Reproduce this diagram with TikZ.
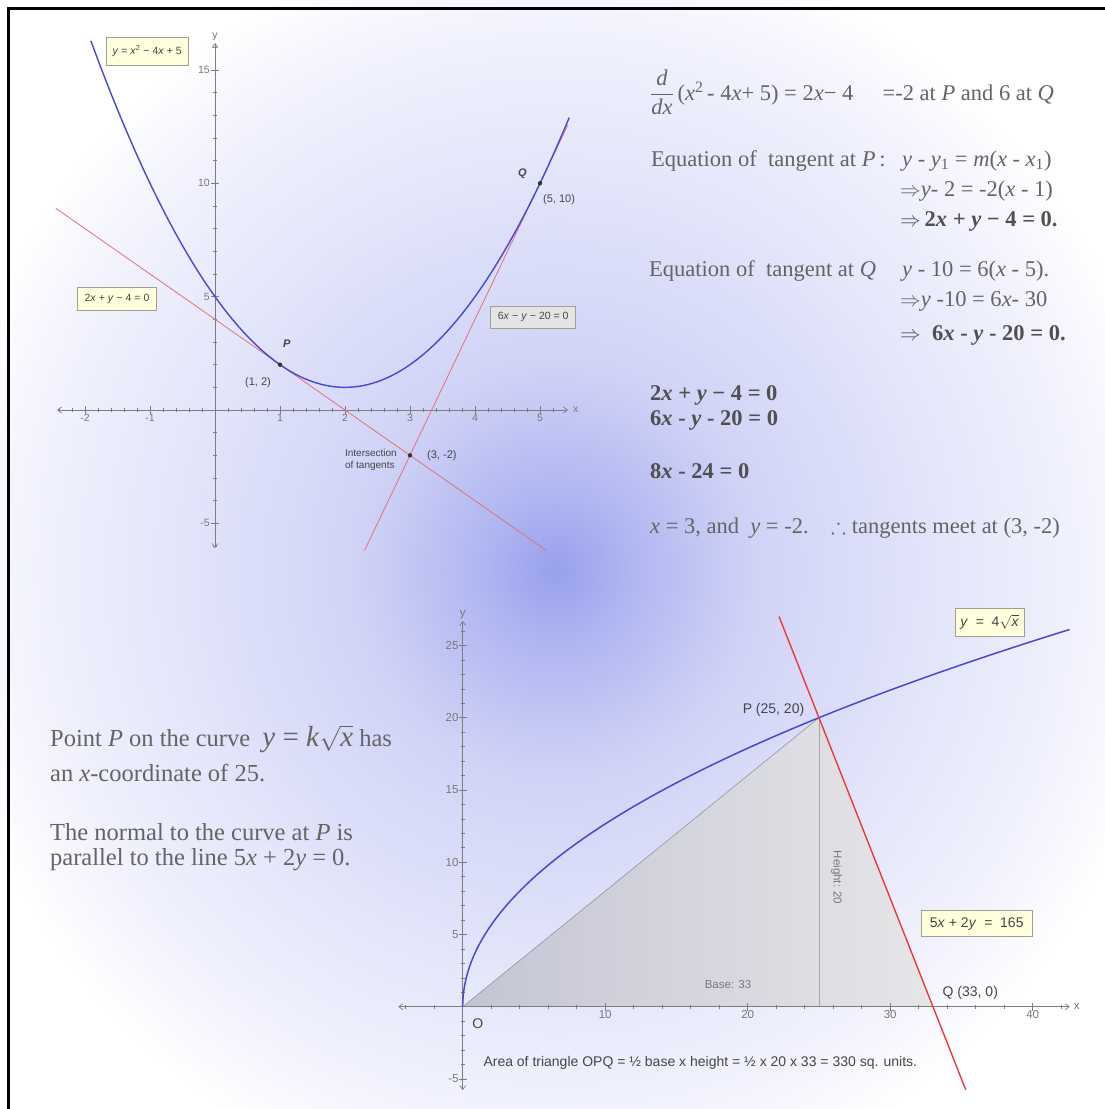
\documentclass[tikz,border=0pt]{standalone}
\usepackage{amsmath, amssymb}
\usepackage{fontspec}
\setmainfont{Liberation Serif}
\newfontfamily\graphfont{Liberation Sans}
\usetikzlibrary{positioning, arrows.meta, calc}

\definecolor{inkgray}{RGB}{100,100,100}
\definecolor{boldgray}{RGB}{80,80,80}
\definecolor{axisgray}{RGB}{125,125,125}
\definecolor{labgray}{RGB}{120,120,120}
\definecolor{ptgray}{RGB}{70,70,70}
\definecolor{curveblue}{RGB}{72,72,212}
\definecolor{tanred}{RGB}{228,112,118}
\definecolor{normalred}{RGB}{234,58,58}
\definecolor{boxyellow}{RGB}{255,255,222}
\definecolor{boxedge}{RGB}{160,160,140}
\definecolor{boxgray}{RGB}{228,228,228}
\definecolor{triangledark}{RGB}{196,197,212}
\definecolor{trianglelight}{RGB}{230,230,232}
\definecolor{glowcore}{RGB}{152,160,238}
\definecolor{glowmid}{RGB}{176,182,241}
\definecolor{glowsoft}{RGB}{208,211,246}
\definecolor{glowpale}{RGB}{226,228,250}
\definecolor{glowfaint}{RGB}{242,243,253}

\pgfdeclareradialshading{glow}{\pgfpoint{0bp}{0bp}}{color(0bp)=(glowcore); color(3bp)=(glowmid); color(8bp)=(glowsoft); color(15bp)=(glowpale); color(21.5bp)=(glowfaint); color(25bp)=(white); color(50bp)=(white)}

\begin{document}
\begin{tikzpicture}[x=1pt, y=-1pt,
  axis/.style={axisgray, line width=0.7pt, {Straight Barb[length=4pt,width=6pt]}-{Straight Barb[length=4pt,width=6pt]}},
  tickmark/.style={axisgray, line width=0.6pt},
  ticklab/.style={text=labgray, inner sep=1pt, font=\graphfont\fontsize{10.5}{12}\selectfont},
  bigticklab/.style={text=labgray, inner sep=1pt, font=\graphfont\fontsize{11.5}{13}\selectfont},
  ptlab/.style={text=ptgray, inner sep=1pt, font=\graphfont\fontsize{11}{13}\selectfont},
  bigptlab/.style={text=ptgray, inner sep=1pt, font=\graphfont\fontsize{14}{16}\selectfont},
  eqbox/.style={draw=boxedge, fill=boxyellow, line width=0.6pt, inner sep=2pt, text=ptgray, font=\graphfont\fontsize{10.5}{12}\selectfont},
  bigeqbox/.style={eqbox, font=\graphfont\fontsize{14}{16}\selectfont},
  tangent/.style={tanred, line width=0.8pt},
  dot/.style={fill=black!80},
  prose/.style={anchor=base west, inner sep=0pt, text=inkgray, font=\fontsize{22.5}{27}\selectfont},
  boldprose/.style={prose, text=boldgray},
  bigprose/.style={prose, font=\fontsize{24.5}{29}\selectfont}]

\useasboundingbox (0,0) rectangle (1105,1109);
\clip (0,0) rectangle (1105,1109);
\fill[white] (0,0) rectangle (1105,1109);
\shade[shading=glow] (556,570) ellipse [x radius=620pt, y radius=640pt];
\draw[line width=2.6pt] (8.7,1109) -- (8.7,8.7) -- (1105,8.7);

\begin{scope}[shift={(215,410)}, x=65pt, y=22.67pt]
  \draw[axis] (-2.43,0) -- (5.43,0);
  \draw[axis] (0,-6.09) -- (0,16.19);
  \foreach \t in {-2.4,-2.2,...,5.3}
    \draw[tickmark] (\t,0) ++(0pt,-2pt) -- ++(0pt,4pt);
  \foreach \t in {-2,...,5}
    \draw[tickmark] (\t,0) ++(0pt,-4pt) -- ++(0pt,8pt);
  \foreach \t in {-6,...,16}
    \draw[tickmark] (0,\t) ++(-2pt,0pt) -- ++(4pt,0pt);
  \foreach \t in {-5,5,10,15}
    \draw[tickmark] (0,\t) ++(-4pt,0pt) -- ++(8pt,0pt);
  \foreach \t in {-2,-1,1,2,3,4,5}
    \node[ticklab, below=3pt] (xt\t) at (\t,0) {\t};
  \foreach \t in {-5,5,10,15}
    \node[ticklab, left=4pt] (yt\t) at (0,\t) {\t};
  \node[ticklab, right=4pt] (xlab) at (5.43,0) {x};
  \node[ticklab, above=1pt] (ylab) at (0,16.19) {y};

  \coordinate (P) at (1,2);
  \coordinate (Q) at (5,10);
  \coordinate (M) at (3,-2);
  \coordinate (tPa) at (-2.45,8.9);
  \coordinate (tPb) at (5.1,-6.2);
  \coordinate (tQa) at (2.3,-6.2);
  \coordinate (tQb) at (5.43,12.58);

  \draw[tangent] (tPa) -- (tPb);
  \draw[tangent] (tQa) -- (tQb);
  \draw[curveblue, line width=1.4pt, domain=-1.91:5.45, samples=120, smooth] plot (\x,{\x*\x-4*\x+5});
  \fill[dot] (P) circle (2.2pt);
  \fill[dot] (Q) circle (2.2pt);
  \fill[dot] (M) circle (2.2pt);
\end{scope}

\node[ptlab, above right=16pt and 2pt of P] (Pname) {\textbf{\textit{P}}};
\node[ptlab, below left=12pt and 8pt of P] (Pxy) {(1, 2)};
\node[ptlab, above left=3pt and 12pt of Q] (Qname) {\textbf{\textit{Q}}};
\node[ptlab, below right=10pt and 2pt of Q] (Qxy) {(5, 10)};
\node[ptlab, right=16pt of M] (Mxy) {(3, -2)};
\node[ptlab, align=left, left=12pt of M, yshift=-5pt, font=\graphfont\fontsize{10}{12}\selectfont] (Mtxt) {Intersection\\of tangents};

\node[eqbox, minimum width=82pt, minimum height=28pt] (parabola) at (147.2,50.9) {\textit{y} = \textit{x}\textsuperscript{2} − 4\textit{x} + 5};
\node[eqbox, minimum width=79pt, minimum height=23pt] (tanPbox) at (117,298.7) {2\textit{x} + \textit{y} − 4 = 0};
\node[eqbox, fill=boxgray, minimum width=85pt, minimum height=22pt] (tanQbox) at (533.2,317.2) {6\textit{x} − \textit{y} − 20 = 0};

\node[prose] (deriv) at (650,100) {$\dfrac{\textit{d}}{\textit{dx}}$\,(\textit{x}\textsuperscript{2}\,- 4\textit{x}+ 5) = 2\textit{x}− 4\hspace{1.3em}=-2 at \textit{P} and 6 at \textit{Q}};
\node[prose] (tanPlab) at (651,166.7) {Equation of\ \ tangent at \textit{P}\,:};
\node[prose] (tanPa) at (902,166.7) {\textit{y} - \textit{y}\textsubscript{1} = \textit{m}(\textit{x} - \textit{x}\textsubscript{1})};
\node[prose] (tanPb) at (900,196) {$\Rightarrow$\textit{y}- 2 = -2(\textit{x} - 1)};
\node[boldprose] (tanPc) at (900,226) {$\Rightarrow$\,\textbf{2\textit{x} + \textit{y} − 4 = 0.}};
\node[prose] (tanQlab) at (649,276.7) {Equation of\ \ tangent at \textit{Q}};
\node[prose] (tanQa) at (902,276.7) {\textit{y} - 10 = 6(\textit{x} - 5).};
\node[prose] (tanQb) at (900,306.7) {$\Rightarrow$\textit{y} -10 = 6\textit{x}- 30};
\node[boldprose] (tanQc) at (900,340) {$\Rightarrow$\ \ \textbf{6\textit{x} - \textit{y} - 20 = 0.}};
\node[boldprose] (sysA) at (650,400) {\textbf{2\textit{x} + \textit{y} − 4 = 0}};
\node[boldprose] (sysB) at (650,425) {\textbf{6\textit{x} - \textit{y} - 20 = 0}};
\node[boldprose] (sysSum) at (650,478.3) {\textbf{8\textit{x} - 24 = 0}};
\node[prose] (meet) at (650,533.3) {\textit{x} = 3, and\ \ \textit{y} = -2.\quad $\therefore$ tangents meet\ at (3, -2)};

\node[bigprose] (curveK) at (50,746.7) {Point \textit{P} on the curve\ \ {\fontsize{29}{30}\selectfont \textit{y} = \textit{k}$\sqrt{\textit{x}}$} has};
\node[bigprose] (curveX) at (50,781.7) {an \textit{x}-coordinate of 25.};
\node[bigprose] (normA) at (50,840) {The normal to the curve at \textit{P} is};
\node[bigprose] (normB) at (50,865) {parallel to the line 5\textit{x} + 2\textit{y} = 0.};

\begin{scope}[shift={(462.7,1006.7)}, x=14.25pt, y=14.45pt]
  \coordinate (O) at (0,0);
  \coordinate (R) at (25,20);
  \coordinate (S) at (33,0);
  \coordinate (H) at (25,0);
  \coordinate (Na) at (22.2,27.0);
  \coordinate (Nb) at (35.3,-5.75);

  \shade[left color=triangledark, right color=trianglelight] (O) -- (R) -- (S) -- cycle;
  \draw[black!45, line width=0.5pt] (O) -- (R);
  \draw[black!35, line width=0.4pt] (R) -- (H);

  \draw[axis] (-4.52,0) -- (42.6,0);
  \draw[axis] (0,-5.77) -- (0,26.7);
  \foreach \t in {-4,-2,...,42}
    \draw[tickmark] (\t,0) ++(0pt,-2pt) -- ++(0pt,4pt);
  \foreach \t in {10,20,30,40}
    \draw[tickmark] (\t,0) ++(0pt,-4pt) -- ++(0pt,8pt);
  \foreach \t in {-5,...,26}
    \draw[tickmark] (0,\t) ++(-2pt,0pt) -- ++(4pt,0pt);
  \foreach \t in {-5,5,10,15,20,25}
    \draw[tickmark] (0,\t) ++(-4pt,0pt) -- ++(8pt,0pt);
  \foreach \t in {10,20,30,40}
    \node[bigticklab, below=3pt] (bxt\t) at (\t,0) {\t};
  \foreach \t in {-5,5,10,15,20,25}
    \node[bigticklab, left=3pt] (byt\t) at (0,\t) {\t};
  \node[bigticklab, right=3pt] (bxlab) at (42.6,0) {x};
  \node[bigticklab, above=1pt] (bylab) at (0,26.7) {y};

  \draw[curveblue, line width=1.5pt, domain=0:6.527, samples=120, smooth, variable=\s] plot ({\s*\s},{4*\s});
  \draw[normalred, line width=1.4pt] (Na) -- (Nb);
\end{scope}

\node[bigptlab] (Rxy) at (773.5,710) {P (25, 20)};
\node[bigptlab] (Sxy) at (970.3,993.3) {Q (33, 0)};
\node[bigptlab] (Oname) at (477.7,1023.3) {O};
\node[bigticklab] (base) at (728,985) {Base: 33};
\node[bigticklab, rotate=-90] (height) at (836.7,877.5) {Height: 20};
\node[bigptlab, anchor=west, inner sep=0pt] (area) at (483.3,1063.3) {Area of triangle OPQ = ½ base x height = ½ x 20 x 33 = 330 sq. units.};

\node[bigeqbox, minimum width=69pt, minimum height=28pt] (rootbox) at (989.4,622.2) {\textit{y}\ \ =\ \ 4$\sqrt{\textit{x}}$};
\node[bigeqbox, minimum width=111pt, minimum height=26pt] (normbox) at (976.7,923.7) {5\textit{x} + 2\textit{y}\ \ =\ \ 165};
\end{tikzpicture}
\end{document}
